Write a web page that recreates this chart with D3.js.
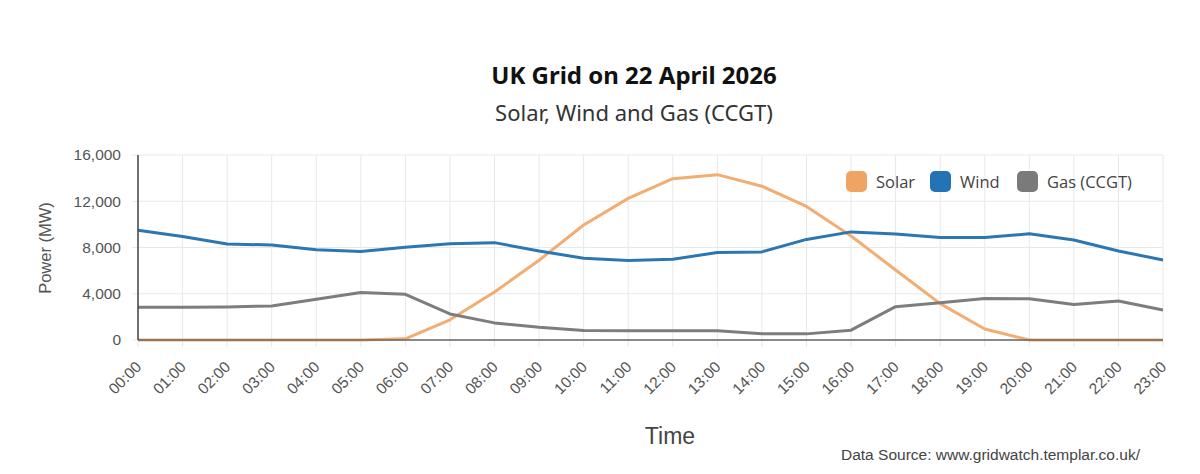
<!DOCTYPE html>
<html>
<head>
<meta charset="utf-8">
<script src="https://cdn.jsdelivr.net/npm/d3@7"></script>
<style>
  body { margin: 0; background: #fff; }
  svg { display: block; }
</style>
</head>
<body>
<svg id="chart" width="1200" height="474"></svg>
<script>
// hourly readings, 22 April 2026
const hours = ['00:00', '01:00', '02:00', '03:00', '04:00', '05:00', '06:00', '07:00',
  '08:00', '09:00', '10:00', '11:00', '12:00', '13:00', '14:00', '15:00',
  '16:00', '17:00', '18:00', '19:00', '20:00', '21:00', '22:00', '23:00'];
const solar = [0, 0, 0, 0, 0, 0, 100, 1750, 4150, 6900, 9950, 12250, 13950, 14300,
  13300, 11550, 9000, 6050, 3150, 950, 0, 0, 0, 0];
const wind = [9500, 8950, 8300, 8220, 7800, 7650, 8030, 8320, 8420, 7700, 7070, 6880,
  6980, 7560, 7620, 8700, 9350, 9170, 8870, 8870, 9180, 8650, 7700, 6920];
const gas = [2830, 2840, 2860, 2940, 3520, 4100, 3950, 2250, 1480, 1100, 820, 810,
  810, 810, 540, 530, 850, 2880, 3230, 3580, 3560, 3070, 3370, 2600];
const yTicks = [0, 4000, 8000, 12000, 16000];

const series = [
  { name: 'Solar', values: solar, color: '#f2ad72', legend: '#f0a464' },
  { name: 'Wind', values: wind, color: '#2b77b3', legend: '#2474b5' },
  { name: 'Gas (CCGT)', values: gas, color: '#7d7d7d', legend: '#7a7a7a' }
];

const svg = d3.select('#chart');
const margin = { left: 138, right: 37, top: 155, bottom: 134 };
const width = 1200 - margin.left - margin.right;
const height = 474 - margin.top - margin.bottom;

const x = d3.scalePoint().domain(hours).range([0, width]);
const y = d3.scaleLinear().domain([0, 16000]).range([height, 0]);

const g = svg.append('g').attr('transform', `translate(${margin.left},${margin.top})`);

// grid
g.append('g')
  .selectAll('line')
  .data(hours)
  .join('line')
  .attr('x1', d => x(d)).attr('x2', d => x(d))
  .attr('y1', 0).attr('y2', height + 7)
  .attr('stroke', '#e8e8e8').attr('stroke-width', 1);
g.append('g')
  .selectAll('line')
  .data(yTicks)
  .join('line')
  .attr('x1', -6).attr('x2', width)
  .attr('y1', d => y(d)).attr('y2', d => y(d))
  .attr('stroke', '#e8e8e8').attr('stroke-width', 1);

// y axis labels
const yAxis = g.append('g')
  .call(d3.axisLeft(y).tickValues(yTicks).tickFormat(d3.format(',')).tickSize(0).tickPadding(17));
yAxis.select('.domain').remove();
yAxis.selectAll('text')
  .attr('font-family', 'Liberation Sans, Arial, sans-serif')
  .attr('font-size', 15.5).attr('fill', '#555');

// x axis labels, rotated
const xAxis = g.append('g')
  .attr('transform', `translate(0,${height})`)
  .call(d3.axisBottom(x).tickSize(0));
xAxis.select('.domain').remove();
xAxis.selectAll('text')
  .attr('font-family', 'Liberation Sans, Arial, sans-serif')
  .attr('font-size', 15.5).attr('fill', '#555')
  .attr('text-anchor', 'end')
  .attr('y', 0)
  .attr('dy', '0.35em')
  .attr('transform', 'translate(0,24) rotate(-45)');

// lines
const line = d3.line().x((d, i) => x(hours[i])).y(d => y(d));
series.forEach(s => {
  g.append('path')
    .datum(s.values)
    .attr('fill', 'none')
    .attr('stroke', s.color)
    .attr('stroke-width', 3)
    .attr('stroke-linejoin', 'round')
    .attr('d', line);
});

// axis lines on top
g.append('line').attr('x1', 0).attr('x2', width).attr('y1', height).attr('y2', height)
  .attr('stroke', '#666').attr('stroke-width', 1.5);
g.append('line').attr('x1', 0).attr('x2', 0).attr('y1', 0).attr('y2', height)
  .attr('stroke', '#444').attr('stroke-width', 1.5);

// legend
const legend = svg.append('g').attr('transform', 'translate(846,171)');
const legendX = [0, 84, 171];
series.forEach((s, i) => {
  const item = legend.append('g').attr('transform', `translate(${legendX[i]},0)`);
  item.append('rect').attr('width', 21).attr('height', 21).attr('rx', 5)
    .attr('fill', s.legend);
  item.append('text').attr('x', 30).attr('y', 17)
    .attr('font-family', 'Open Sans, sans-serif').attr('font-size', 16.5)
    .attr('fill', '#444').text(s.name);
});

// titles
svg.append('text').attr('x', 634).attr('y', 84).attr('text-anchor', 'middle')
  .attr('font-family', 'Noto Sans, sans-serif').attr('font-weight', 'bold')
  .attr('font-size', 24).attr('fill', '#111').text('UK Grid on 22 April 2026');
svg.append('text').attr('x', 634).attr('y', 121).attr('text-anchor', 'middle')
  .attr('font-family', 'Noto Sans, sans-serif')
  .attr('font-size', 22).attr('fill', '#333').text('Solar, Wind and Gas (CCGT)');

svg.append('text')
  .attr('transform', `translate(51,248) rotate(-90)`)
  .attr('text-anchor', 'middle')
  .attr('font-family', 'Liberation Sans, Arial, sans-serif')
  .attr('font-size', 16.5).attr('fill', '#555').text('Power (MW)');

svg.append('text').attr('x', 670).attr('y', 444).attr('text-anchor', 'middle')
  .attr('font-family', 'Liberation Sans, Arial, sans-serif')
  .attr('font-size', 23).attr('fill', '#444').text('Time');

svg.append('text').attr('x', 841).attr('y', 460)
  .attr('font-family', 'Liberation Sans, Arial, sans-serif')
  .attr('font-size', 15.5).attr('fill', '#444').text('Data Source: www.gridwatch.templar.co.uk/');
</script>
</body>
</html>
